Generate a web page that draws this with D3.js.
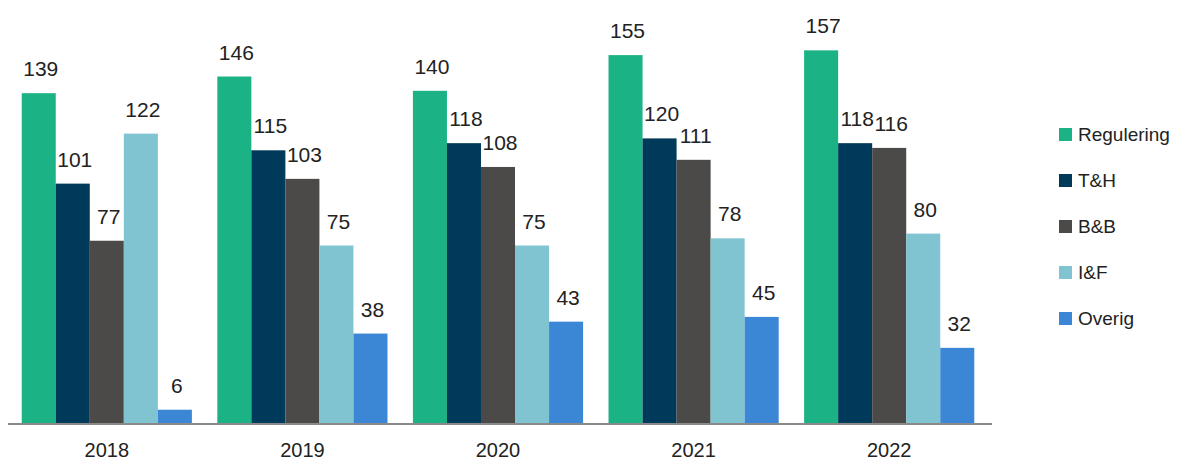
<!DOCTYPE html>
<html>
<head>
<meta charset="utf-8">
<script src="https://cdn.jsdelivr.net/npm/d3@7"></script>
<style>
  body { margin: 0; background: #fff; }
  svg { display: block; font-family: "Liberation Sans", Arial, sans-serif; }
</style>
</head>
<body>
<div class="chart"></div>
<script>
const years = ['2018', '2019', '2020', '2021', '2022'];
const series = ['Regulering', 'T&H', 'B&B', 'I&F', 'Overig'];
const regulering = [139, 146, 140, 155, 157];
const th = [101, 115, 118, 120, 118];
const bb = [77, 103, 108, 111, 116];
const inf = [122, 75, 75, 78, 80];
const overig = [6, 38, 43, 45, 32];
const colors = ['#1bb385', '#003a5a', '#4b4a48', '#80c3d1', '#3b87d5'];

const values = [regulering, th, bb, inf, overig];
const data = [];
years.forEach((yr, i) => {
  series.forEach((s, j) => data.push({year: yr, key: s, value: values[j][i], color: colors[j]}));
});

const width = 1185, height = 464;
const baseline = 424;

const svg = d3.select('.chart')
  .append('svg')
    .attr('width', width)
    .attr('height', height);

const x = d3.scaleBand()
  .domain(years)
  .range([9, 987])
  .paddingInner(0.13)
  .paddingOuter(0.065);

const xInner = d3.scaleBand()
  .domain(series)
  .range([0, x.bandwidth()]);

const y = d3.scaleLinear()
  .domain([0, 160])
  .range([baseline, baseline - 160 * 2.38]);

const groups = svg.selectAll('g.year')
  .data(years)
  .enter()
  .append('g')
    .attr('class', 'year')
    .attr('transform', d => `translate(${x(d)},0)`);

groups.selectAll('rect')
  .data(yr => data.filter(d => d.year === yr))
  .enter()
  .append('rect')
    .attr('x', d => xInner(d.key))
    .attr('y', d => y(d.value))
    .attr('width', xInner.bandwidth())
    .attr('height', d => baseline - y(d.value))
    .attr('fill', d => d.color);

groups.selectAll('text.val')
  .data(yr => data.filter(d => d.year === yr))
  .enter()
  .append('text')
    .attr('class', 'val')
    .attr('x', d => xInner(d.key) + xInner.bandwidth() / 2 + 2)
    .attr('y', d => y(d.value) - 17)
    .attr('text-anchor', 'middle')
    .attr('font-size', '21px')
    .attr('fill', '#222')
    .text(d => d.value);

// x axis
const xAxis = g => g
  .attr('transform', `translate(0,${baseline})`)
  .call(d3.axisBottom(x).tickSize(0).tickPadding(19))
  .call(g => g.select('.domain').attr('stroke', '#8a8a8a').attr('stroke-width', 2).attr('d', 'M8,0H992'))
  .call(g => g.selectAll('text').attr('font-size', '20px').attr('fill', '#222').attr('font-family', '"Liberation Sans", Arial, sans-serif'));

svg.append('g').call(xAxis);

// legend
const legend = svg.append('g')
  .selectAll('g')
  .data(series)
  .enter()
  .append('g')
    .attr('transform', (d, i) => `translate(1059,${134 + i * 46})`);

legend.append('rect')
  .attr('x', 0)
  .attr('y', -6)
  .attr('width', 13)
  .attr('height', 13)
  .attr('fill', (d, i) => colors[i]);

legend.append('text')
  .attr('x', 19)
  .attr('y', 7)
  .attr('font-size', '19px')
  .attr('fill', '#222')
  .text(d => d);
</script>
</body>
</html>
